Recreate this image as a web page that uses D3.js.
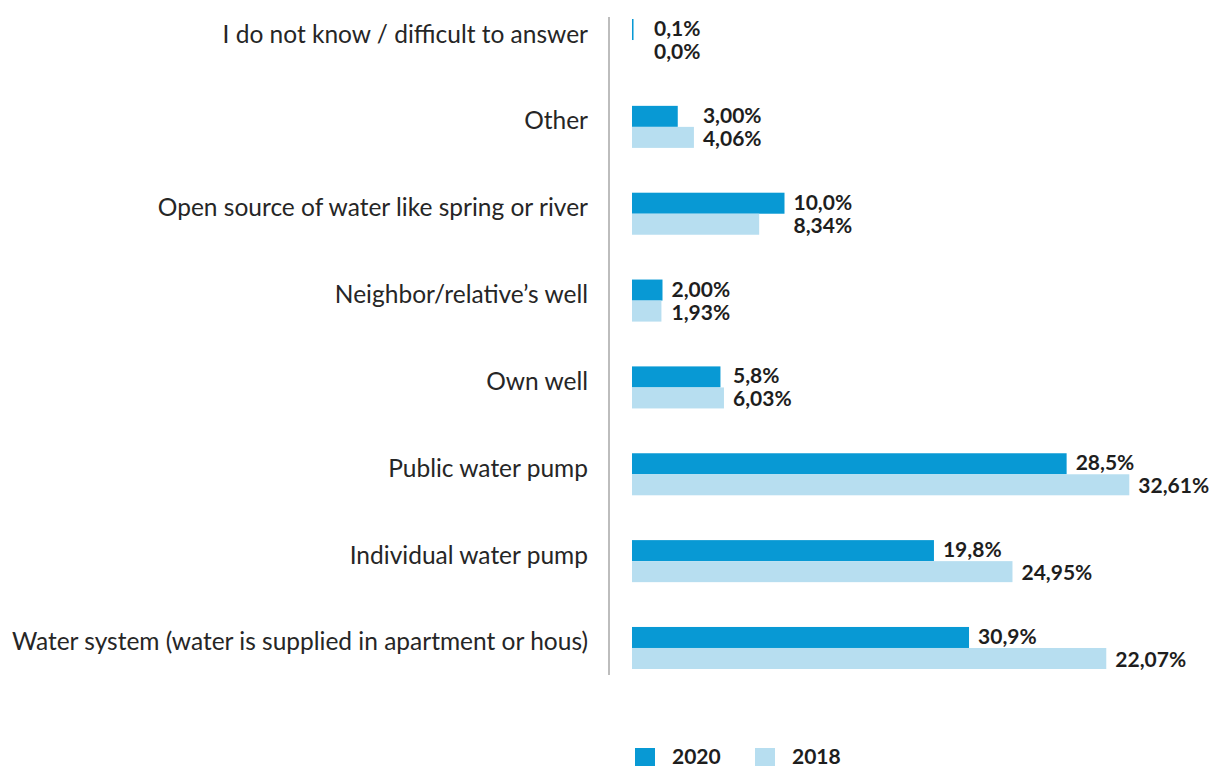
<!DOCTYPE html>
<html>
<head>
<meta charset="utf-8">
<script src="https://cdn.jsdelivr.net/npm/d3@7"></script>
<style>
  html, body { margin: 0; padding: 0; background: #ffffff; }
  svg { display: block; }
</style>
</head>
<body>
<svg id="chart" width="1222" height="767"></svg>
<script>
// ---- data ----
const categories = [
  "I do not know / difficult to answer",
  "Other",
  "Open source of water like spring or river",
  "Neighbor/relative\u2019s well",
  "Own well",
  "Public water pump",
  "Individual water pump",
  "Water system (water is supplied in apartment or hous)"
];
const seriesNames = ["2020", "2018"];
// bar lengths as drawn in the picture (%)
const values2020 = [0.1, 3.0, 10.0, 2.0, 5.8, 28.5, 19.8, 22.1];
const values2018 = [0.0, 4.06, 8.34, 1.93, 6.03, 32.61, 24.95, 31.1];
// printed value labels
const labels2020 = ["0,1%", "3,00%", "10,0%", "2,00%", "5,8%", "28,5%", "19,8%", "30,9%"];
const labels2018 = ["0,0%", "4,06%", "8,34%", "1,93%", "6,03%", "32,61%", "24,95%", "22,07%"];

const colors = { "2020": "#0899d4", "2018": "#b7def0" };

const svg = d3.select("#chart");
svg.append("rect").attr("width", 1222).attr("height", 767).attr("fill", "#ffffff");

const x = d3.scaleLinear().domain([0, 40]).range([632, 632 + 610]);
const y = d3.scaleBand().domain(categories).range([19, 669]).paddingInner(0.516).paddingOuter(0);
const ySub = d3.scaleBand().domain(seriesNames).range([0, y.bandwidth()]);

const rows = categories.map((c, i) => ({
  cat: c,
  vals: { "2020": values2020[i], "2018": values2018[i] },
  labs: { "2020": labels2020[i], "2018": labels2018[i] }
}));

// axis line
svg.append("line")
  .attr("x1", 609).attr("x2", 609)
  .attr("y1", y(categories[0]) - 2)
  .attr("y2", y(categories[categories.length - 1]) + y.bandwidth() + 6)
  .attr("stroke", "#9a9a9a").attr("stroke-width", 1.3);

// category labels
svg.append("g").selectAll("text").data(rows).join("text")
  .attr("x", 588)
  .attr("y", d => y(d.cat) + y.bandwidth() / 2 - 7)
  .attr("text-anchor", "end")
  .attr("dominant-baseline", "central")
  .attr("font-family", "Lato, 'Open Sans', sans-serif")
  .attr("font-size", 24.5)
  .attr("fill", "#262626")
  .text(d => d.cat);

// bars
const g = svg.append("g");
rows.forEach(r => {
  seriesNames.forEach(s => {
    const v = r.vals[s];
    if (v <= 0) return;
    g.append("rect")
      .attr("x", x(0))
      .attr("y", y(r.cat) + ySub(s))
      .attr("width", Math.max(1.5, x(v) - x(0)))
      .attr("height", ySub.bandwidth())
      .attr("fill", colors[s]);
  });
});

// value labels
rows.forEach(r => {
  const v1 = r.vals["2020"], v2 = r.vals["2018"];
  const aligned = Math.abs(v1 - v2) < 3;
  seriesNames.forEach(s => {
    const end = aligned ? x(Math.max(v1, v2)) : x(r.vals[s]);
    const lx = Math.min(Math.max(end + 9, x(0) + 22), 1152);
    g.append("text")
      .attr("x", lx)
      .attr("y", y(r.cat) + ySub(s) + ySub.bandwidth() / 2 + (s === "2020" ? -2 : 0))
      .attr("dominant-baseline", "central")
      .attr("font-family", "Lato, 'Open Sans', sans-serif")
      .attr("font-weight", "bold")
      .attr("font-size", 21)
      .attr("fill", "#1e1e1e")
      .text(r.labs[s]);
  });
});

// legend
const legend = svg.append("g");
const legendX = [635, 755];
seriesNames.forEach((s, i) => {
  legend.append("rect")
    .attr("x", legendX[i]).attr("y", 748)
    .attr("width", 20).attr("height", 18)
    .attr("fill", colors[s]);
  legend.append("text")
    .attr("x", legendX[i] + 37).attr("y", 755)
    .attr("dominant-baseline", "central")
    .attr("font-family", "Lato, 'Open Sans', sans-serif")
    .attr("font-weight", "bold")
    .attr("font-size", 21)
    .attr("fill", "#1e1e1e")
    .text(s);
});
</script>
</body>
</html>
